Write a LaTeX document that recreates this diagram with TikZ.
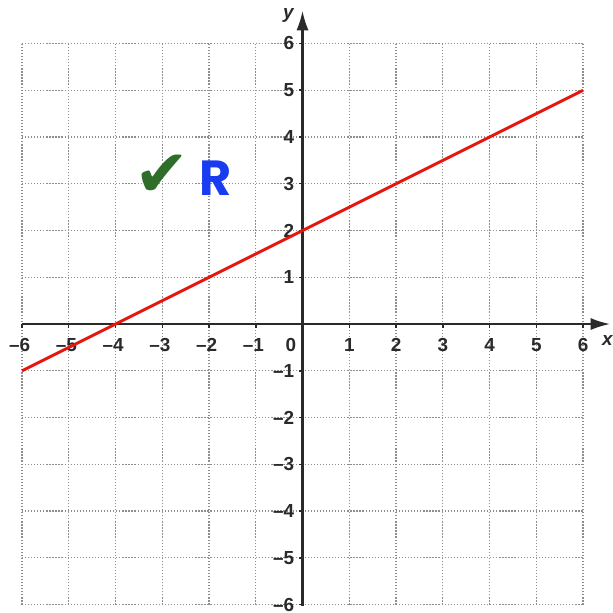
\documentclass[tikz,border=0pt]{standalone}
\usepackage{fontspec}
\setmainfont{Liberation Sans}
\newfontfamily\symfont{DejaVu Sans}
\newfontfamily\handfont{Poppins}
\usetikzlibrary{arrows.meta}
\definecolor{axisgray}{HTML}{2A2A2A}
\definecolor{gridgray}{HTML}{8E8E8E}
\definecolor{linered}{HTML}{E8150F}
\definecolor{tickgreen}{HTML}{2E6E2A}
\definecolor{handblue}{HTML}{1A3CF0}
\tikzset{
  gridline/.style={gridgray, line width=0.75pt, dash pattern=on 0.75pt off 1.1pt},
  axisline/.style={axisgray, line width=1.3pt},
  axisarrow/.style={axisline, -{Latex[length=4.2mm,width=2.6mm]}},
  ticklabel/.style={text=axisgray, font=\fontsize{11.5}{12}\selectfont\bfseries, inner sep=0pt},
  axislabel/.style={text=axisgray, font=\fontsize{11.5}{12}\selectfont\bfseries\itshape, inner sep=0pt},
  graphline/.style={linered, line width=1.8pt},
}
\begin{document}
\begin{tikzpicture}
\useasboundingbox (-6.47,-6.18) rectangle (6.62,6.93);
\fill[white] (-6.47,-6.18) rectangle (6.62,6.93);
% grid
\foreach \i in {-6,...,6} {
  \draw[gridline] (\i,-6) -- (\i,6);
  \draw[gridline] (-6,\i) -- (6,\i);
}
% axes
\coordinate (xstart) at (-6,0);
\coordinate (xend) at (6.58,0);
\coordinate (ystart) at (0,-6.02);
\coordinate (yend) at (0,6.7);
\draw[axisarrow] (xstart) -- (xend);
\draw[axisarrow] (ystart) -- (yend);
% ticks
\foreach \i in {-6,...,-1,1,2,...,6} {
  \draw[axisline, line width=0.9pt] (\i,0.0) -- (\i,-0.08);
  \draw[axisline, line width=0.9pt] (0,\i) -- (-0.08,\i);
}
% tick labels
\foreach \i in {1,...,6} {
  \node[ticklabel] (xl\i) at (\i,-0.45) {\i};
  \node[ticklabel, anchor=east] (yl\i) at (-0.17,\i) {\i};
}
\foreach \i in {1,...,6} {
  \node[ticklabel] (xln\i) at (-\i-0.05,-0.45) {–\i};
  \node[ticklabel, anchor=east] (yln\i) at (-0.17,-\i) {–\i};
}
\node[ticklabel] (zero) at (-0.25,-0.45) {0};
\node[axislabel] (xlab) at (6.52,-0.35) {x};
\node[axislabel] (ylab) at (-0.3,6.6) {y};
% graph
\coordinate (p1) at (-6,-1);
\coordinate (p2) at (6,5);
\draw[graphline] (p1) -- (p2);
% annotations
\node[text=tickgreen, font=\symfont\fontsize{40}{40}\selectfont, inner sep=0pt] (check) at (-3.0,3.17) {✔};
\node[text=handblue, font=\handfont\bfseries\fontsize{30}{30}\selectfont, inner sep=0pt] (rmark) at (-1.86,3.12) {R};
\end{tikzpicture}
\end{document}
